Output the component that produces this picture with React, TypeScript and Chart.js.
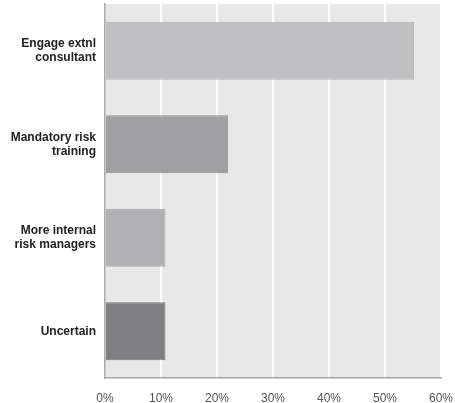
import React, { useEffect, useRef } from "react";
import { Chart, registerables } from "chart.js";

Chart.register(...registerables);

const categories: string[][] = [
  ["Engage extnl", "consultant"],
  ["Mandatory risk", "training"],
  ["More internal", "risk managers"],
  ["Uncertain"],
];
const values: number[] = [55.2, 22, 10.8, 10.8];
const barColors: string[] = ["#c0c0c2", "#9e9fa1", "#b1b1b3", "#7f8082"];
const borderColors: string[] = ["#b4b4b6", "#939496", "#a5a5a7", "#747577"];
const xTicks: number[] = [0, 10, 20, 30, 40, 50, 60];

const bgPlugin = {
  id: "plotBg",
  beforeDraw(chart: any) {
    const { ctx, chartArea } = chart;
    if (!chartArea) return;
    ctx.save();
    ctx.fillStyle = "#e8e8e9";
    ctx.fillRect(chartArea.left, chartArea.top, chartArea.right - chartArea.left, chartArea.bottom - chartArea.top);
    ctx.restore();
  },
};

export default function App() {
  const ref = useRef<HTMLCanvasElement>(null);
  useEffect(() => {
    document.body.style.margin = "0";
    const chart = new Chart(ref.current!, {
      type: "bar",
      data: {
        labels: categories,
        datasets: [
          {
            data: values,
            backgroundColor: barColors,
            borderColor: borderColors,
            borderWidth: 1,
            barPercentage: 0.62,
            categoryPercentage: 1,
          },
        ],
      },
      options: {
        indexAxis: "y",
        animation: false,
        responsive: false,
        maintainAspectRatio: false,
        layout: { padding: { top: 4, right: 14, left: 0, bottom: 0 } },
        plugins: { legend: { display: false }, tooltip: { enabled: false } },
        scales: {
          x: {
            min: 0,
            max: 60,
            afterBuildTicks: (axis: any) => {
              axis.ticks = xTicks.map((v) => ({ value: v }));
            },
            afterFit: (axis: any) => {
              axis.height = 25;
              axis.paddingLeft = 0;
              axis.paddingRight = 0;
            },
            ticks: {
              callback: (v: any) => v + "%",
              color: "#555",
              font: { family: "Liberation Sans, Arial", size: 12 },
              padding: 13,
              maxRotation: 0,
            },
            grid: {
              color: (c: any) => (c.tick && c.tick.value === 0 ? "rgba(0,0,0,0)" : "#ffffff"),
              lineWidth: 2,
              drawTicks: false,
            },
            border: { color: "#a9a9a9", width: 1.5 },
          },
          y: {
            afterFit: (axis: any) => {
              axis.width = 105;
              axis.paddingTop = 0;
              axis.paddingBottom = 0;
            },
            ticks: {
              color: "#222",
              font: { family: "Liberation Sans, Arial", size: 12, weight: "bold", lineHeight: 1.17 },
              padding: 9,
            },
            grid: { display: false, drawTicks: false },
            border: { color: "#a9a9a9", width: 1.5 },
          },
        },
      },
      plugins: [bgPlugin],
    } as any);
    return () => chart.destroy();
  }, []);
  return (
    <div style={{ width: 455, height: 403 }}>
      <canvas ref={ref} width={455} height={403} style={{ display: "block", width: 455, height: 403 }} />
    </div>
  );
}
